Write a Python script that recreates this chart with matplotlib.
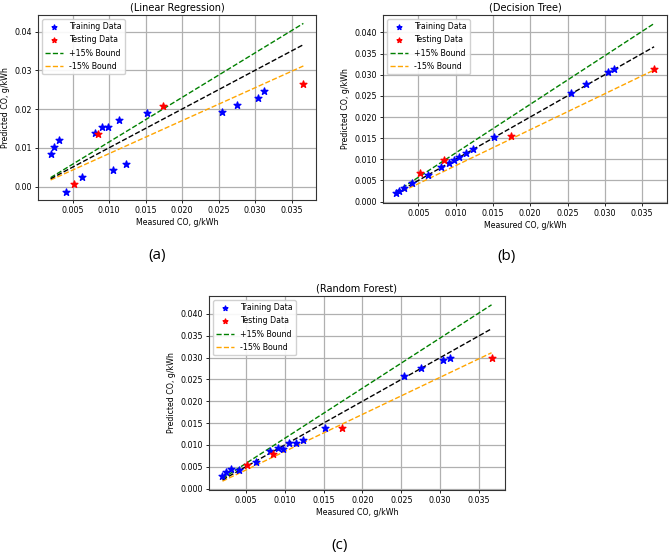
import numpy as np
import matplotlib
matplotlib.use("Agg")
import matplotlib.pyplot as plt

# measured CO values (same samples in every panel)
measured_train = [0.0020, 0.0024, 0.0031, 0.0041, 0.0063, 0.0081, 0.0091, 0.0098,
                  0.0105, 0.0114, 0.0123, 0.0152, 0.0254, 0.0275, 0.0304, 0.0312]
measured_test = [0.0052, 0.0085, 0.0174, 0.0366]

# predicted CO values per model
lr_train = [0.0083, 0.0101, 0.0119, -0.0013, 0.0024, 0.0137, 0.0154, 0.0153,
            0.0042, 0.0171, 0.0059, 0.0189, 0.0193, 0.0211, 0.0229, 0.0247]
lr_test = [0.0006, 0.0135, 0.0208, 0.0265]

dt_train = [0.0021, 0.0025, 0.0032, 0.0043, 0.0064, 0.0082, 0.0091, 0.0098,
            0.0106, 0.0114, 0.0124, 0.0153, 0.0256, 0.0277, 0.0307, 0.0313]
dt_test = [0.0067, 0.0099, 0.0154, 0.0314]

rf_train = [0.0029, 0.0037, 0.0046, 0.0043, 0.0062, 0.0086, 0.0092, 0.0091,
            0.0104, 0.0105, 0.0112, 0.0138, 0.0259, 0.0277, 0.0294, 0.0298]
rf_test = [0.0055, 0.0080, 0.0138, 0.0298]

titles = ["(Linear Regression)", "(Decision Tree)", "(Random Forest)"]
panel_tags = ["(a)", "(b)", "(c)"]

W, H = 669, 555
FS = 5.7


def px_axes(fig, left, top, right, bottom):
    return fig.add_axes([left / W, 1 - bottom / H, (right - left) / W, (bottom - top) / H])


def draw_panel(ax, train, test, title, yfmt):
    allx = measured_train + measured_test
    xl = np.array([min(allx), max(allx)])
    ax.grid(True, color="#b0b0b0", linewidth=0.9)
    ax.set_axisbelow(True)
    ax.scatter(measured_train, train, marker="*", color="blue", s=26, label="Training Data", zorder=3)
    ax.scatter(measured_test, test, marker="*", color="red", s=26, label="Testing Data", zorder=3)
    ax.plot(xl, 1.15 * xl, "--", color="green", lw=1.0, label="+15% Bound")
    ax.plot(xl, 0.85 * xl, "--", color="orange", lw=1.0, label="-15% Bound")
    ax.plot(xl, xl, "--", color="black", lw=1.0)
    ax.set_title(title, fontsize=7, pad=3)
    ax.set_xlabel("Measured CO, g/kWh", fontsize=FS, labelpad=2)
    ax.set_ylabel("Predicted CO, g/kWh", fontsize=FS, labelpad=3)
    ax.set_xticks([0.005, 0.010, 0.015, 0.020, 0.025, 0.030, 0.035])
    ax.xaxis.set_major_formatter(matplotlib.ticker.FormatStrFormatter("%.3f"))
    ax.yaxis.set_major_formatter(matplotlib.ticker.FormatStrFormatter(yfmt))
    ax.tick_params(labelsize=FS, length=2.5, width=0.6, pad=2)
    for s in ax.spines.values():
        s.set_linewidth(0.8)
        s.set_color("#333333")
    ax.legend(loc="upper left", fontsize=FS, scatterpoints=1, markerscale=0.7,
              handlelength=2.2, borderpad=0.4, labelspacing=0.55, framealpha=0.9)


fig = plt.figure(figsize=(W / 100, H / 100), dpi=100)

ax_a = px_axes(fig, 38, 15, 316, 200)
draw_panel(ax_a, lr_train, lr_test, titles[0], "%.2f")
ax_a.set_yticks([0.00, 0.01, 0.02, 0.03, 0.04])

ax_b = px_axes(fig, 383, 15, 667, 203)
draw_panel(ax_b, dt_train, dt_test, titles[1], "%.3f")
ax_b.set_yticks(np.arange(0, 0.0401, 0.005))

ax_c = px_axes(fig, 209, 296, 505, 490)
draw_panel(ax_c, rf_train, rf_test, titles[2], "%.3f")
ax_c.set_yticks(np.arange(0, 0.0401, 0.005))

tag_font = dict(fontsize=11, family="Open Sans", ha="center", va="center")
fig.text(157 / W, 1 - 255 / H, panel_tags[0], **tag_font)
fig.text(507 / W, 1 - 257 / H, panel_tags[1], **tag_font)
fig.text(340 / W, 1 - 545 / H, panel_tags[2], **tag_font)

fig.savefig("out.png", dpi=100)
